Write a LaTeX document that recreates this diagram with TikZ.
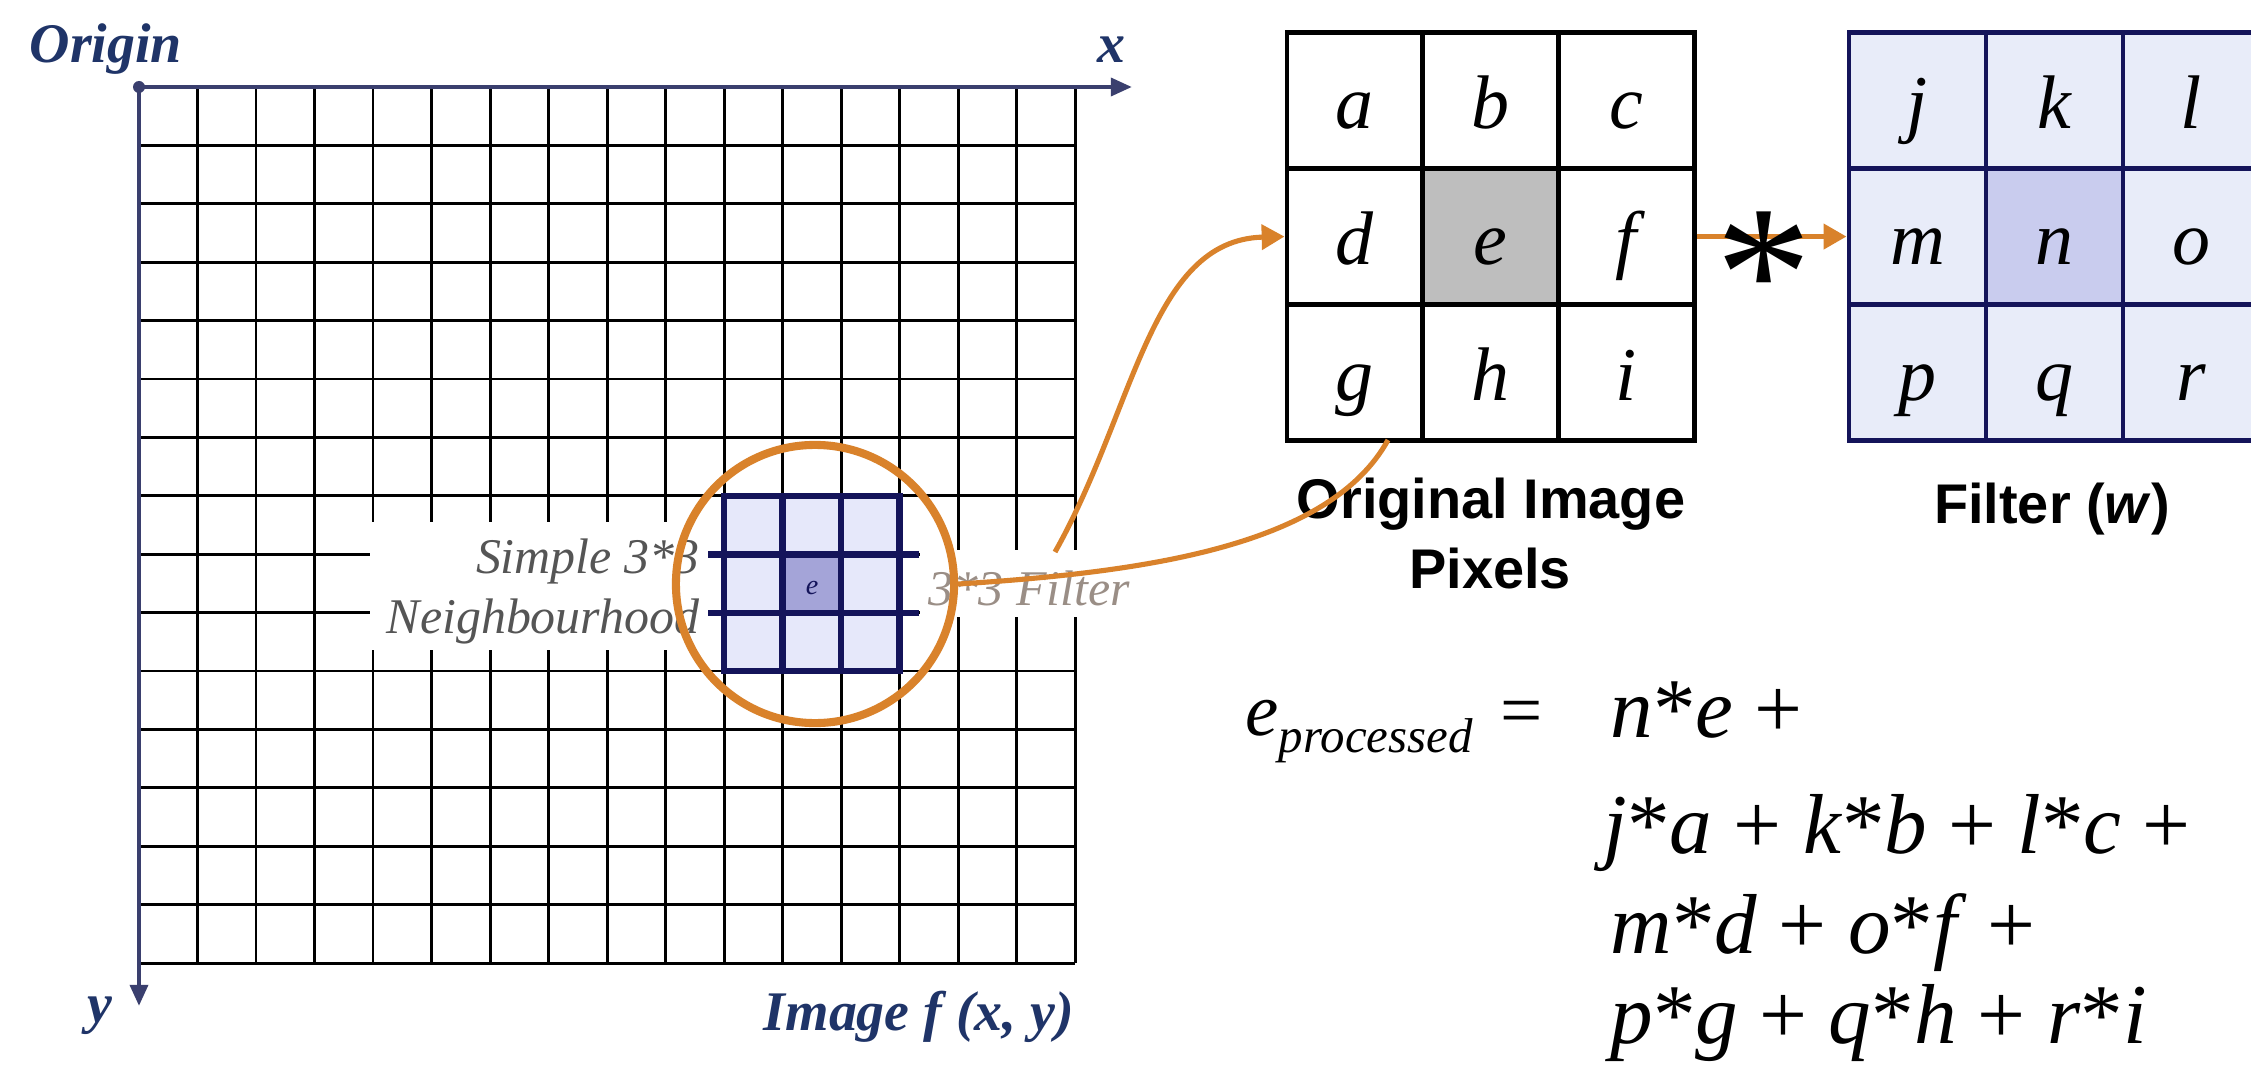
\documentclass[tikz,border=0pt]{standalone}
\usepackage{fontspec}
\setmainfont{Liberation Serif}
\newfontfamily\labelsans{Liberation Sans}
\usetikzlibrary{arrows.meta}
\definecolor{navy}{HTML}{14145A}
\definecolor{axisblue}{HTML}{3A3F6E}
\definecolor{titleblue}{HTML}{1F3468}
\definecolor{orng}{HTML}{D9822B}
\definecolor{nbfill}{HTML}{E6E8FA}
\definecolor{nbcenter}{HTML}{A4A4D8}
\definecolor{fcell}{HTML}{E8ECF9}
\definecolor{fcenter}{HTML}{C9CCEE}
\definecolor{ecenter}{HTML}{BEBEBE}
\definecolor{lblgray}{HTML}{555555}
\definecolor{filtergray}{HTML}{9A8E86}
\begin{document}
\begin{tikzpicture}[x=0.01cm,y=-0.01cm,
  gridline/.style={line width=0.85pt,black},
  axisline/.style={line width=1.3pt,axisblue,-{Triangle[length=6pt,width=5pt]}},
  axislabel/.style={font=\fontsize{15.9}{19}\selectfont\bfseries\itshape,text=titleblue,inner sep=0pt},
  ocell/.style={draw=black,line width=1.4pt,fill=white,minimum width=13.57mm,minimum height=13.57mm,inner sep=0pt,text height=5.6mm,text depth=0mm,font=\fontsize{21.6}{26}\selectfont\itshape},
  fcellstyle/.style={ocell,draw=navy,fill=fcell,minimum width=13.7mm},
  nbline/.style={line width=1.85pt,navy},
  conn/.style={draw=orng,line width=1.45pt},
  connarrow/.style={conn,-{Triangle[length=6.5pt,width=7pt]}},
  graylabel/.style={font=\fontsize{14.2}{17}\selectfont\itshape,text=lblgray,inner sep=0pt},
  boxlabel/.style={font=\labelsans\fontsize{15.9}{19}\selectfont\bfseries,inner sep=0pt},
  formula/.style={font=\fontsize{24.2}{29}\selectfont,inner sep=0pt,anchor=base west},
]
\useasboundingbox (0,0) rectangle (2251,1079);
\clip (0,0) rectangle (2251,1079);
\fill[white] (0,0) rectangle (2251,1079);

% image grid 16 x 15
\foreach \i in {0,...,16} \draw[gridline] ({139+58.5*\i},87) -- ({139+58.5*\i},963);
\foreach \j in {1,...,15} \draw[gridline] (139,{87+58.4*\j}) -- (1075,{87+58.4*\j});

% white label backgrounds
\fill[white] (370,522) rectangle (722,650);
\fill[white] (920,550) rectangle (1136,617);

% 3x3 neighbourhood
\fill[nbfill] (724,496) rectangle (899.5,671.2);
\fill[nbcenter] (782.5,554.4) rectangle (841,612.8);
\draw[nbline] (724,496) rectangle (899.5,671.2);
\draw[nbline] (782.5,496) -- (782.5,671.2);
\draw[nbline] (841,496) -- (841,671.2);
\draw[nbline] (708,554.4) -- (919,554.4);
\draw[nbline] (708,612.8) -- (919,612.8);
\node[inner sep=0pt,text=navy,font=\fontsize{8}{9}\selectfont\itshape] (nbe) at (812,588) {e};

% labels
\node[graylabel,anchor=base east] (simple) at (700,573) {Simple 3*3};
\node[graylabel,anchor=base east] (neigh) at (700,633) {Neighbourhood};
\node[graylabel,anchor=base west,text=filtergray] (flt) at (928,605) {3*3 Filter};

% focus circle
\node[circle,draw=orng,line width=2.3pt,minimum size=27.8mm,inner sep=0pt] (focus) at (815,584) {};

% axes
\coordinate (origin) at (139,87);
\coordinate (xend) at (1132,87);
\coordinate (yend) at (139,1006);
\draw[axisline] (origin) -- (xend);
\draw[axisline] (origin) -- (yend);
\fill[axisblue] (origin) circle[radius=6];
\node[axislabel,anchor=base west] (orig) at (29,63) {Origin};
\node[axislabel,anchor=base] (xl) at (1111,63) {x};
\node[axislabel,anchor=base] (yl) at (100,1022) {y};
\node[axislabel,anchor=base east] (imgl) at (1075,1030) {Image f (x, y)};

% original image pixels
\node[ocell] (a) at (1354.85,100.85) {a};
\node[ocell] (b) at (1490.55,100.85) {b};
\node[ocell] (c) at (1626.25,100.85) {c};
\node[ocell] (d) at (1354.85,236.55) {d};
\node[ocell,fill=ecenter] (e) at (1490.55,236.55) {e};
\node[ocell] (f) at (1626.25,236.55) {f};
\node[ocell] (g) at (1354.85,372.25) {g};
\node[ocell] (h) at (1490.55,372.25) {h};
\node[ocell] (i) at (1626.25,372.25) {i};

% filter
\node[fcellstyle] (j) at (1917.5,100.85) {j};
\node[fcellstyle] (k) at (2054.5,100.85) {k};
\node[fcellstyle] (l) at (2191.5,100.85) {l};
\node[fcellstyle] (m) at (1917.5,236.55) {m};
\node[fcellstyle,fill=fcenter] (n) at (2054.5,236.55) {n};
\node[fcellstyle] (o) at (2191.5,236.55) {o};
\node[fcellstyle] (p) at (1917.5,372.25) {p};
\node[fcellstyle] (q) at (2054.5,372.25) {q};
\node[fcellstyle] (r) at (2191.5,372.25) {r};

\node[boxlabel,anchor=base] (olbl1) at (1491,518) {Original Image};
\node[boxlabel,anchor=base] (olbl2) at (1490,588) {Pixels};
\node[boxlabel,anchor=base] (flbl) at (2052,523) {Filter (\textit{w})};

% connectors
\coordinate (a1start) at (1055,552);
\coordinate (a2end) at (1388,440);
\draw[connarrow] (a1start) .. controls (1135,410) and (1150,240) .. (d.west);
\draw[conn] (focus.east) .. controls (1150,572) and (1330,545) .. (a2end);
\draw[connarrow] (f.east) -- (m.west);
\node[inner sep=0pt,font=\fontsize{55}{58}\selectfont,anchor=base] (star) at (1764,338) {*};

% formula
\node[formula,font=\fontsize{21.3}{26}\selectfont] (lhs) at (1245,735) {\textit{e}\raisebox{-5.1pt}{\fontsize{13.9}{16}\selectfont\textit{processed}}};
\node[formula,font=\fontsize{21.3}{26}\selectfont] (eq) at (1500,735) {=};
\node[formula] (t1) at (1610,737) {\textit{n}*\textit{e} +};
\node[formula] (t2) at (1603,853) {\textit{j}*\textit{a} + \textit{k}*\textit{b} + \textit{l}*\textit{c} +};
\node[formula] (t3) at (1610,953) {\textit{m}*\textit{d} + \textit{o}*\textit{f} +};
\node[formula] (t4) at (1610,1043) {\textit{p}*\textit{g} + \textit{q}*\textit{h} + \textit{r}*\textit{i}};
\end{tikzpicture}
\end{document}
